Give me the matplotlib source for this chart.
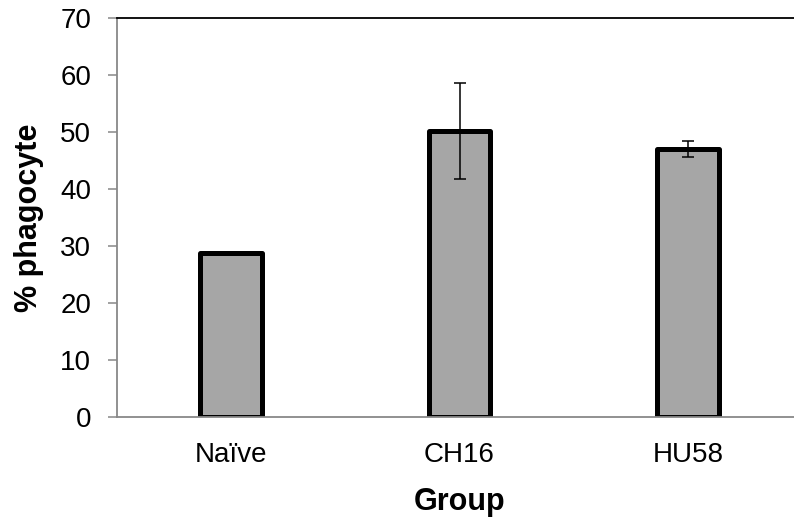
import matplotlib
matplotlib.use("Agg")
import matplotlib.pyplot as plt

# Data
groups = ["Naïve", "CH16", "HU58"]
phagocyte = [28.8, 50.2, 47.0]
errors = [0.15, 8.45, 1.45]
y_ticks = [0, 10, 20, 30, 40, 50, 60, 70]

plt.rcParams['font.family'] = ['Liberation Sans', 'DejaVu Sans']

fig = plt.figure(figsize=(7.94, 5.22), dpi=100)
ax = fig.add_axes([117 / 794, 1 - 417 / 522, 685 / 794, 399 / 522])

x = list(range(len(groups)))
ax.bar(x, phagocyte, width=0.27, color='#a6a6a6', edgecolor='black',
       linewidth=3.6, joinstyle='round', zorder=2)
ax.errorbar(x, phagocyte, yerr=errors, fmt='none', ecolor='black',
            elinewidth=1.1, capsize=4.3, capthick=1.1, zorder=3)

ax.set_xlim(-0.5, 2.5)
ax.set_ylim(0, 70)
ax.set_yticks(y_ticks)
ax.set_xticks(x)
ax.set_xticklabels(groups)

ax.tick_params(axis='y', direction='out', length=6.5, width=1.1,
               color='#888888', labelsize=20, pad=12)
ax.tick_params(axis='x', length=0, labelsize=20, pad=18)

for side in ['left', 'bottom']:
    ax.spines[side].set_color('#888888')
    ax.spines[side].set_linewidth(1.3)
ax.spines['top'].set_color('black')
ax.spines['top'].set_linewidth(1.3)
ax.spines['right'].set_visible(False)

ax.set_ylabel('% phagocyte', fontsize=22, fontweight='bold', labelpad=12)
ax.set_xlabel('Group', fontsize=22, fontweight='bold', labelpad=14)

fig.savefig('out.png', dpi=100)
